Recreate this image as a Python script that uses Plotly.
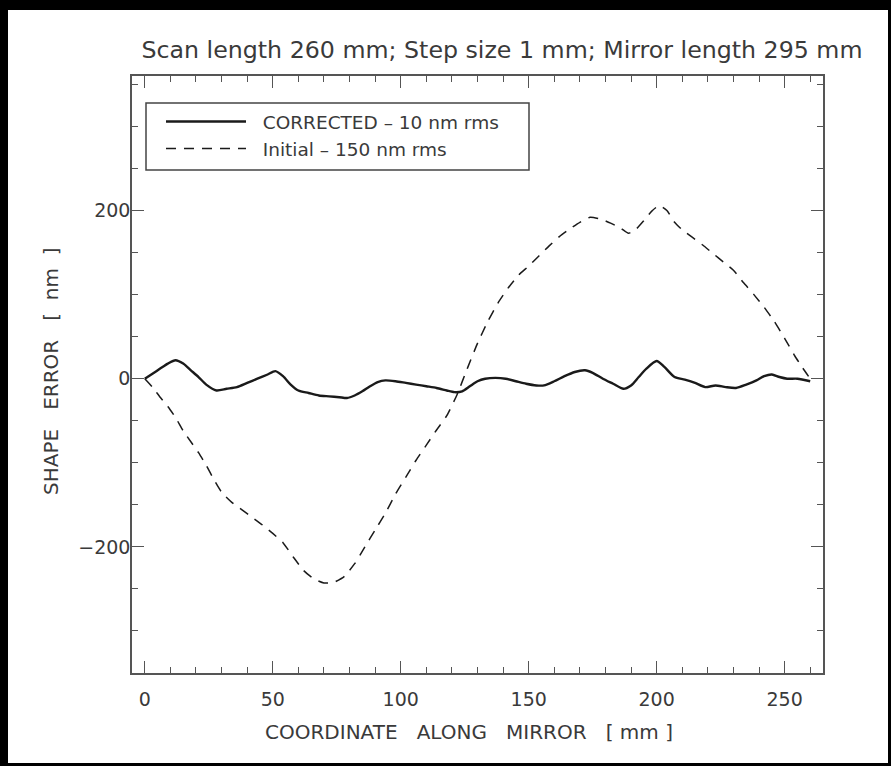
import plotly.graph_objects as go

# ---- data ----
corr_x = [0, 3, 6, 9, 12, 15, 18, 21, 24, 28, 32, 36, 40, 44, 48, 51, 54, 57, 60, 64,
          68, 72, 76, 79, 82, 85, 88, 91, 94, 98, 102, 106, 110, 114, 118, 121, 124, 127,
          130, 133, 137, 141, 145, 149, 153, 156, 160, 164, 168, 172, 175, 179, 183, 187,
          190, 193, 196, 200, 203, 207, 211, 215, 219, 223, 227, 231, 235, 239, 242, 245,
          248, 251, 255, 260]
corr_y = [0, 6, 12, 18, 22, 18, 10, 2, -7, -14, -12, -10, -5, 0, 5, 9, 3, -7, -14, -17,
          -20, -21, -22, -23, -20, -15, -9, -4, -2, -3, -5, -7, -9, -11, -14, -16, -15, -9,
          -3, 0, 1, 0, -3, -6, -8, -8, -3, 3, 8, 10, 7, 0, -6, -12,
          -8, 2, 12, 21, 14, 2, -1, -5, -10, -8, -10, -11, -7, -2, 3, 5,
          2, 0, 0, -3]

init_x = [0, 3, 6, 9, 12, 15, 18, 21, 24, 27, 30, 34, 38, 42, 46, 50, 54, 58, 62, 66,
          70, 74, 78, 82, 86, 90, 94, 98, 102, 106, 110, 114, 118, 122, 126, 130, 134, 138,
          142, 146, 150, 154, 158, 162, 166, 170, 174, 178, 182, 186, 189, 192, 195, 198,
          201, 204, 207, 210, 214, 218, 222, 226, 230, 234, 238, 242, 246, 250, 254, 257, 260]
init_y = [0, -10, -22, -33, -46, -62, -75, -88, -103, -120, -135, -147, -156, -165, -174,
          -184, -195, -212, -228, -238, -243, -242, -235, -220, -200, -180, -160, -137, -117,
          -97, -79, -61, -44, -19, 12, 42, 68, 90, 108, 123, 134, 146, 158, 169, 178, 186,
          192, 190, 185, 179, 173, 178, 188, 199, 206, 200, 186, 177, 168, 159, 149, 139,
          129, 114, 100, 85, 68, 48, 27, 13, 0]

series_names = ["CORRECTED – 10 nm rms", "Initial – 150 nm rms"]
title_text = "Scan length 260 mm; Step size 1 mm; Mirror length 295 mm"
x_title = "COORDINATE   ALONG   MIRROR   [ mm ]"
y_title = "SHAPE   ERROR   [  nm  ]"

# ---- figure ----
FONT = "DejaVu Sans"
TXT = "#3a3a3a"
AX = "#555555"

fig = go.Figure()
fig.add_trace(go.Scatter(x=corr_x, y=corr_y, mode="lines", name="  " + series_names[0],
                         line=dict(color="#1a1a1a", width=2.4, shape="spline", smoothing=0.7)))
fig.add_trace(go.Scatter(x=init_x, y=init_y, mode="lines", name="  " + series_names[1],
                         line=dict(color="#1a1a1a", width=1.5, dash="10px,8px",
                                   shape="spline", smoothing=0.5)))

L, R, T, B = 132, 68, 76, 93
W, H = 891, 766
pw, ph = W - L - R, H - T - B


def px2x(px):
    return (px - L) / pw


def py2y(py):
    return (H - B - py) / ph


axis_common = dict(showgrid=False, zeroline=False, showline=True, linecolor=AX, linewidth=1.5,
                   mirror="allticks", ticks="inside", ticklen=12, tickwidth=1.3, tickcolor=AX,
                   tickfont=dict(family=FONT, size=19, color=TXT))

fig.update_xaxes(range=[-5, 265], dtick=50, tick0=0,
                 minor=dict(dtick=10, ticklen=6, ticks="inside", tickcolor=AX, tickwidth=1.3),
                 ticklabelstandoff=8, **axis_common)
fig.update_yaxes(range=[-350, 360], dtick=200, tick0=0,
                 minor=dict(dtick=50, ticklen=6, ticks="inside", tickcolor=AX, tickwidth=1.3),
                 ticklabelstandoff=-4, **axis_common)

shapes = []
for (x0, x1, y0, y1) in [(0, 891, 0, 10), (0, 8, 0, 766), (0, 891, 763, 766), (888, 891, 0, 766)]:
    shapes.append(dict(type="rect", xref="paper", yref="paper",
                       x0=px2x(x0), x1=px2x(x1), y0=py2y(y1), y1=py2y(y0),
                       fillcolor="black", line=dict(width=0), layer="above"))
# legend frame
shapes.append(dict(type="rect", xref="paper", yref="paper",
                   x0=px2x(146), x1=px2x(529), y0=py2y(170), y1=py2y(103),
                   line=dict(color="#444444", width=1.5), fillcolor="rgba(0,0,0,0)", layer="above"))

annotations = [
    dict(text=x_title, xref="paper", yref="paper", x=px2x(468.5), y=py2y(732),
         xanchor="center", yanchor="middle", showarrow=False,
         font=dict(family=FONT, size=20, color=TXT)),
    dict(text=y_title, xref="paper", yref="paper", x=px2x(51), y=py2y(371),
         xanchor="center", yanchor="middle", showarrow=False, textangle=-90,
         font=dict(family=FONT, size=20, color=TXT)),
]

fig.update_layout(
    width=W, height=H,
    margin=dict(l=L, r=R, t=T, b=B),
    paper_bgcolor="white", plot_bgcolor="white",
    font=dict(family=FONT, color=TXT),
    title=dict(text=title_text, x=px2x(502), xref="paper", xanchor="center",
               y=1 - 50 / H, yref="container", yanchor="middle",
               font=dict(family=FONT, size=23.7, color=TXT)),
    legend=dict(x=px2x(161), y=py2y(103), xanchor="left", yanchor="top",
                borderwidth=0, bgcolor="rgba(0,0,0,0)",
                itemwidth=80, font=dict(family=FONT, size=18.5, color=TXT),
                tracegroupgap=0),
    showlegend=True,
    shapes=shapes,
    annotations=annotations,
)

fig.write_html("out.html")
